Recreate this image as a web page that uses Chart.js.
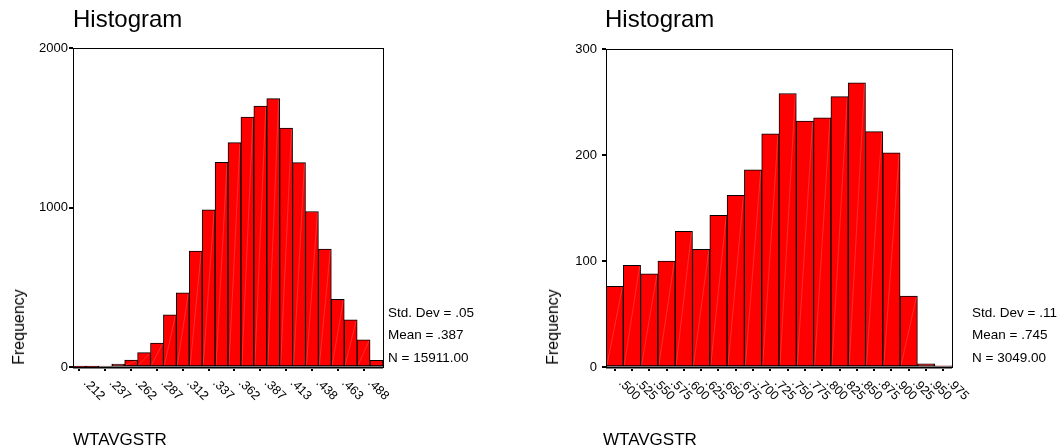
<!DOCTYPE html>
<html>
<head>
<meta charset="utf-8">
<script src="https://cdn.jsdelivr.net/npm/chart.js@4.4.1/dist/chart.umd.min.js"></script>
<style>
  body { margin: 0; background: #fff; width: 1060px; height: 448px; overflow: hidden; position: relative; font-family: "Liberation Sans", Arial, sans-serif; color: #000; }
  canvas { position: absolute; top: 0; }
  .txt { position: absolute; white-space: nowrap; line-height: 1; }
  .titulo { font-size: 24px; top: 7px; }
  .eje { font-size: 17px; top: 430.6px; }
  .stat { font-size: 13.5px; }
  .freq { font-size: 16px; top: 327px; transform: translate(-50%, -50%) rotate(-90deg); }
</style>
</head>
<body>
<canvas id="graficoIzq" width="530" height="448" style="left:0"></canvas>
<canvas id="graficoDer" width="530" height="448" style="left:530px"></canvas>

<div class="txt titulo" style="left:73px">Histogram</div>
<div class="txt titulo" style="left:605px">Histogram</div>
<div class="txt freq" style="left:18.8px">Frequency</div>
<div class="txt freq" style="left:552.5px">Frequency</div>
<div class="txt eje" style="left:73px">WTAVGSTR</div>
<div class="txt eje" style="left:603px">WTAVGSTR</div>

<div class="txt stat" style="left:388px; top:306.3px">Std. Dev = .05</div>
<div class="txt stat" style="left:388px; top:327.9px">Mean = .387</div>
<div class="txt stat" style="left:388px; top:350.9px">N = 15911.00</div>
<div class="txt stat" style="left:972px; top:306.3px">Std. Dev = .11</div>
<div class="txt stat" style="left:972px; top:327.9px">Mean = .745</div>
<div class="txt stat" style="left:972px; top:350.9px">N = 3049.00</div>

<script>
// Histograma izquierdo (24 intervalos, etiqueta cada dos)
const etiquetasIzq = ['.212', '', '.237', '', '.262', '', '.287', '', '.312', '', '.337', '',
                      '.362', '', '.387', '', '.413', '', '.438', '', '.463', '', '.488', ''];
const frecuenciasIzq = [2, 2, 6, 19, 44, 90, 150, 327, 465, 727, 985, 1283,
                        1407, 1567, 1636, 1683, 1498, 1281, 975, 740, 425, 296, 171, 42];
const ticksYIzq = [0, 1000, 2000];

// Histograma derecho (20 intervalos)
const etiquetasDer = ['.500', '.525', '.550', '.575', '.600', '.625', '.650', '.675', '.700', '.725',
                      '.750', '.775', '.800', '.825', '.850', '.875', '.900', '.925', '.950', '.975'];
const frecuenciasDer = [76, 96, 88, 100, 128, 111, 143, 162, 186, 220,
                        258, 232, 235, 255, 268, 222, 202, 67, 3, 1];
const ticksYDer = [0, 100, 200, 300];

const FUENTE = '"Liberation Sans", Arial, sans-serif';

// Marco, puntos de marca y etiquetas giradas del eje X
const pluginMarco = {
  id: 'marco',
  afterDatasetsDraw(chart) {
    const ctx = chart.ctx;
    // línea diagonal tenue dentro de cada barra
    ctx.save();
    ctx.strokeStyle = 'rgba(255,255,255,0.25)';
    ctx.lineWidth = 0.7;
    chart.getDatasetMeta(0).data.forEach(b => {
      const p = b.getProps(['x', 'y', 'base', 'width'], true);
      if (p.base - p.y < 6) return;
      ctx.beginPath();
      ctx.moveTo(p.x - p.width / 2 + 1, p.base - 1);
      ctx.lineTo(p.x + p.width / 2 - 1, p.y + 1);
      ctx.stroke();
    });
    ctx.restore();
  },
  afterDraw(chart) {
    const ctx = chart.ctx;
    const a = chart.chartArea;
    const x = chart.scales.x;
    ctx.save();
    ctx.strokeStyle = '#000';
    ctx.lineWidth = 1;
    ctx.strokeRect(Math.round(a.left) + 0.5, Math.round(a.top) + 0.5,
                   Math.round(a.right - a.left), Math.round(a.bottom - a.top));
    ctx.beginPath();
    ctx.moveTo(a.left, Math.round(a.bottom) + 0.5);
    ctx.lineTo(a.right, Math.round(a.bottom) + 0.5);
    ctx.lineWidth = 2;
    ctx.stroke();

    ctx.fillStyle = '#000';
    ctx.font = '12.5px ' + FUENTE;
    ctx.textAlign = 'left';
    ctx.textBaseline = 'middle';
    chart.data.labels.forEach((lab, i) => {
      if (!lab) return;
      const px = x.getPixelForValue(i);
      ctx.fillRect(Math.round(px) - 1, Math.round(a.bottom) + 2, 2, 2);
      ctx.save();
      ctx.translate(px + 6, a.bottom + 14);
      ctx.rotate(Math.PI / 4);
      ctx.fillText(lab, 0, 0);
      ctx.restore();
    });
    ctx.restore();
  }
};

function crearHistograma(id, etiquetas, datos, ticksY, padding, padY) {
  const ctx = document.getElementById(id).getContext('2d');
  return new Chart(ctx, {
    type: 'bar',
    data: {
      labels: etiquetas,
      datasets: [{
        data: datos,
        backgroundColor: '#ff0000',
        borderColor: '#000',
        borderWidth: 1,
        borderSkipped: false,
        barPercentage: 1,
        categoryPercentage: 1
      }]
    },
    options: {
      responsive: false,
      animation: false,
      devicePixelRatio: 1,
      layout: { padding },
      plugins: { legend: { display: false }, tooltip: { enabled: false } },
      scales: {
        x: { display: false },
        y: {
          min: ticksY[0],
          max: ticksY[ticksY.length - 1],
          afterBuildTicks: s => { s.ticks = ticksY.map(v => ({ value: v })); },
          afterFit: s => { s.width = 40; },
          border: { display: false },
          grid: { drawOnChartArea: false, drawTicks: true, tickLength: 4, lineWidth: 2, color: '#000' },
          ticks: {
            color: '#000',
            padding: padY,
            font: { family: FUENTE, size: 13 },
            callback: v => String(v)
          }
        }
      }
    },
    plugins: [pluginMarco]
  });
}

crearHistograma('graficoIzq', etiquetasIzq, frecuenciasIzq, ticksYIzq,
  { left: 33, top: 48, right: 147, bottom: 81 }, 1);
crearHistograma('graficoDer', etiquetasDer, frecuenciasDer, ticksYDer,
  { left: 36, top: 49, right: 108, bottom: 81 }, 5);
</script>
</body>
</html>
